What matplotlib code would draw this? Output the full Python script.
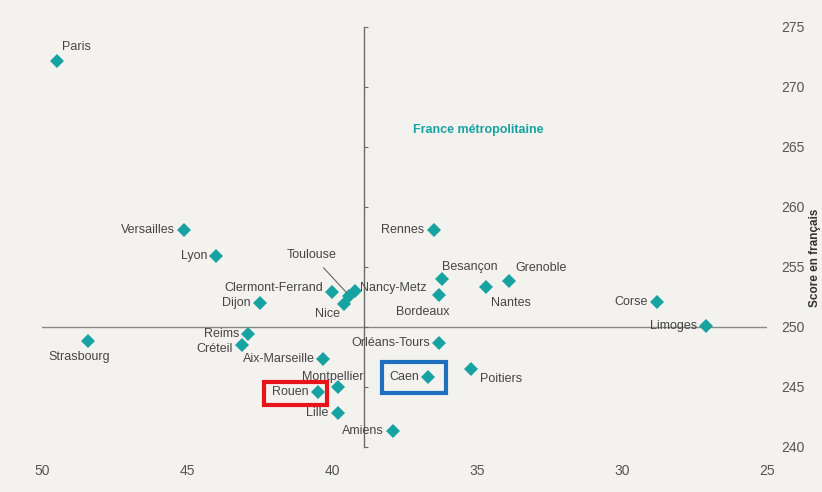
import matplotlib
matplotlib.use("Agg")
import matplotlib.pyplot as plt
from matplotlib.patches import Rectangle

plt.rcParams['font.family'] = ['Liberation Sans', 'DejaVu Sans']

# ---- data ----
names = ["Paris", "Versailles", "Lyon", "Rennes", "Toulouse", "Clermont-Ferrand",
         "Nancy-Metz", "Dijon", "Nice", "Reims", "Créteil", "Strasbourg",
         "Aix-Marseille", "Montpellier", "Rouen", "Lille", "Amiens",
         "Orléans-Tours", "Caen", "Poitiers", "Besançon", "Bordeaux", "Nantes",
         "Grenoble", "Corse", "Limoges"]
x_vals = [49.5, 45.1, 44.0, 36.5, 39.4, 40.0,
          39.2, 42.5, 39.6, 42.9, 43.1, 48.4,
          40.3, 39.8, 40.5, 39.8, 37.9,
          36.3, 36.7, 35.2, 36.2, 36.3, 34.7,
          33.9, 28.8, 27.1]
y_vals = [272.2, 258.1, 255.9, 258.1, 252.6, 252.9,
          253.0, 252.0, 251.9, 249.4, 248.5, 248.8,
          247.3, 245.0, 244.6, 242.8, 241.3,
          248.7, 245.8, 246.5, 254.0, 252.7, 253.3,
          253.8, 252.1, 250.1]
x_ticks = [50, 45, 40, 35, 30, 25]
y_ticks = [240, 245, 250, 255, 260, 265, 270, 275]
x_ref = 38.9     # moyenne France métropolitaine (axe vertical)
y_ref = 250      # score moyen
highlight_red = "Rouen"
highlight_blue = "Caen"

# ---- layout: label offsets (pixels) and alignment ----
L = ((-9, 0), 'right', 'center')
label_pos = {
    "Paris": ((5, 8), 'left', 'bottom'),
    "Strasbourg": ((-9, -16), 'center', 'center'),
    "Toulouse": ((-38, 41), 'center', 'center'),
    "Clermont-Ferrand": ((-9, 4), 'right', 'center'),
    "Créteil": ((-9, -4), 'right', 'center'),
    "Nancy-Metz": ((5, 3), 'left', 'center'),
    "Nice": ((-16, -10), 'center', 'center'),
    "Montpellier": ((-5, 10), 'center', 'center'),
    "Poitiers": ((9, -10), 'left', 'center'),
    "Besançon": ((0, 12), 'left', 'center'),
    "Bordeaux": ((-17, -17), 'center', 'center'),
    "Nantes": ((5, -16), 'left', 'center'),
    "Grenoble": ((6, 13), 'left', 'center'),
}

DPI = 100
fig = plt.figure(figsize=(8.22, 4.92), dpi=DPI, facecolor='#f4f2ef')
ax = fig.add_axes([0.0511, 0.0915, 0.8822, 0.8537])
ax.set_facecolor('#f4f2ef')

ax.set_xlim(50, 25)
ax.set_ylim(240, 275)

teal = '#17a3a1'
txt = '#454545'

ax.axhline(y_ref, color='#8a8a8a', lw=1.0, zorder=1)

ax.plot(x_vals, y_vals, linestyle='none', marker='D', ms=7, color=teal,
        markeredgewidth=0, zorder=3)

for n, xv, yv in zip(names, x_vals, y_vals):
    (dx, dy), ha, va = label_pos.get(n, L)
    if n == "Toulouse":
        ax.annotate(n, (xv, yv), xytext=(dx, dy), textcoords='offset pixels',
                    ha=ha, va=va, fontsize=9, color=txt, zorder=4,
                    arrowprops=dict(arrowstyle='-', color='#555555', lw=0.7,
                                    shrinkA=4, shrinkB=3))
    else:
        ax.annotate(n, (xv, yv), xytext=(dx, dy), textcoords='offset pixels',
                    ha=ha, va=va, fontsize=9, color=txt, zorder=4)

# highlight boxes
ix = names.index(highlight_red)
rx, ry = x_vals[ix], y_vals[ix]
ax.add_patch(Rectangle((rx - 0.34, ry - 1.1), 2.17, 1.9, fill=False,
                       edgecolor='#e8141b', lw=3.0, zorder=5))
ix = names.index(highlight_blue)
bx, by = x_vals[ix], y_vals[ix]
ax.add_patch(Rectangle((bx - 0.63, by - 1.3), 2.21, 2.6, fill=False,
                       edgecolor='#1f6fc0', lw=3.0, zorder=5))

ax.text(37.2, 266.4, "France métropolitaine", color=teal, fontsize=9,
        fontweight='bold', ha='left', va='center')

# spines
for s in ['top', 'right', 'bottom']:
    ax.spines[s].set_visible(False)
ax.spines['left'].set_position(('data', x_ref))
ax.spines['left'].set_color('#6a6a6a')
ax.spines['left'].set_linewidth(1.0)

ax.set_xticks(x_ticks)
ax.set_xticklabels([str(v) for v in x_ticks])
ax.set_yticks(y_ticks)
ax.set_yticklabels([str(v) for v in y_ticks])
ax.tick_params(axis='x', length=0, pad=12, labelsize=10, labelcolor='#555555')
ax.tick_params(axis='y', left=True, right=False, labelleft=False,
               labelright=True, direction='in', length=3, color='#6a6a6a',
               pad=10, labelsize=10, labelcolor='#555555')

ax.text(1.066, 0.45, "Score en français", transform=ax.transAxes,
        rotation=90, ha='center', va='center', fontsize=8.5,
        fontweight='bold', color='#333333')

fig.savefig('out.png', dpi=DPI, facecolor=fig.get_facecolor())
